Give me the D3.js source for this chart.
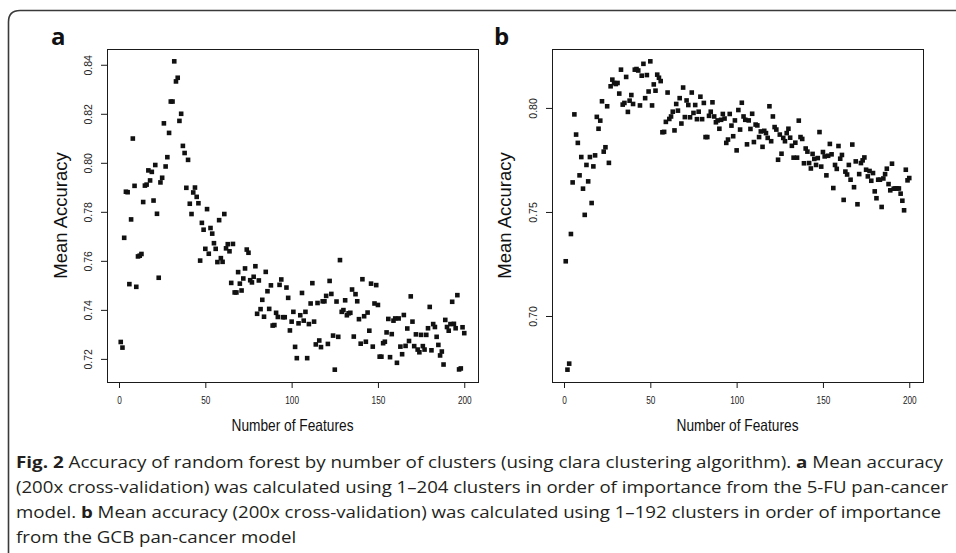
<!DOCTYPE html>
<html>
<head>
<meta charset="utf-8">
<script src="https://cdn.jsdelivr.net/npm/d3@7"></script>
<style>
  html, body { margin: 0; padding: 0; background: #fff; }
  svg { display: block; }
</style>
</head>
<body>
<div id="chart"></div>
<script>
// number of features used (1..200) on the x axis of both panels
const features = d3.range(1, 201);

// panel a: 5-FU pan-cancer model
const accuracyA = [
  0.7269, 0.7246, 0.7694, 0.7882, 0.7880, 0.7505, 0.7769, 0.8099, 0.7906, 0.7494,
  0.7618, 0.7621, 0.7628, 0.7840, 0.7907, 0.7911, 0.7969, 0.7928, 0.7963, 0.7846,
  0.7991, 0.7792, 0.7531, 0.7920, 0.7939, 0.8161, 0.7985, 0.8023, 0.8122, 0.8250,
  0.8250, 0.8414, 0.8332, 0.8347, 0.8171, 0.8200, 0.8069, 0.8040, 0.7898, 0.8012,
  0.7833, 0.7791, 0.7879, 0.7899, 0.7861, 0.7835, 0.7601, 0.7755, 0.7727, 0.7649,
  0.7811, 0.7629, 0.7734, 0.7711, 0.7672, 0.7649, 0.7595, 0.7766, 0.7611, 0.7596,
  0.7791, 0.7651, 0.7668, 0.7639, 0.7510, 0.7669, 0.7471, 0.7471, 0.7554, 0.7507,
  0.7479, 0.7528, 0.7569, 0.7646, 0.7633, 0.7521, 0.7512, 0.7535, 0.7578, 0.7384,
  0.7520, 0.7403, 0.7441, 0.7372, 0.7555, 0.7476, 0.7404, 0.7500, 0.7336, 0.7338,
  0.7388, 0.7371, 0.7502, 0.7524, 0.7370, 0.7370, 0.7491, 0.7449, 0.7316, 0.7352,
  0.7392, 0.7249, 0.7203, 0.7345, 0.7378, 0.7469, 0.7356, 0.7392, 0.7203, 0.7342,
  0.7426, 0.7509, 0.7352, 0.7259, 0.7428, 0.7275, 0.7248, 0.7435, 0.7435, 0.7457,
  0.7261, 0.7518, 0.7465, 0.7295, 0.7156, 0.7434, 0.7290, 0.7603, 0.7392, 0.7399,
  0.7439, 0.7378, 0.7386, 0.7388, 0.7483, 0.7291, 0.7464, 0.7435, 0.7362, 0.7262,
  0.7525, 0.7374, 0.7270, 0.7389, 0.7315, 0.7507, 0.7250, 0.7426, 0.7501, 0.7420,
  0.7209, 0.7209, 0.7264, 0.7270, 0.7308, 0.7363, 0.7207, 0.7301, 0.7356, 0.7365,
  0.7184, 0.7365, 0.7250, 0.7219, 0.7379, 0.7253, 0.7324, 0.7273, 0.7455, 0.7352,
  0.7252, 0.7300, 0.7238, 0.7227, 0.7298, 0.7252, 0.7238, 0.7298, 0.7325, 0.7412,
  0.7235, 0.7342, 0.7330, 0.7290, 0.7257, 0.7214, 0.7230, 0.7177, 0.7359, 0.7330,
  0.7315, 0.7342, 0.7433, 0.7343, 0.7325, 0.7460, 0.7157, 0.7161, 0.7329, 0.7305
];

// panel b: GCB pan-cancer model
const accuracyB = [
  0.7263, 0.6742, 0.6771, 0.7394, 0.7642, 0.7969, 0.7872, 0.7832, 0.7676, 0.7764,
  0.7612, 0.7486, 0.7726, 0.7647, 0.7764, 0.7543, 0.7719, 0.7772, 0.7957, 0.7900,
  0.7939, 0.8032, 0.7790, 0.7811, 0.8008, 0.7736, 0.8104, 0.8136, 0.8120, 0.8115,
  0.8120, 0.8069, 0.8184, 0.8016, 0.8024, 0.8149, 0.7981, 0.8035, 0.8062, 0.8019,
  0.8184, 0.8187, 0.8180, 0.8012, 0.8155, 0.8212, 0.8047, 0.8158, 0.8079, 0.8224,
  0.8012, 0.8113, 0.8083, 0.8160, 0.8145, 0.8129, 0.7883, 0.7885, 0.7933, 0.8074,
  0.7947, 0.7959, 0.7982, 0.7892, 0.8019, 0.7987, 0.8047, 0.7925, 0.8098, 0.7956,
  0.8036, 0.8014, 0.7955, 0.8074, 0.7976, 0.8014, 0.7946, 0.7982, 0.8054, 0.7946,
  0.8024, 0.7860, 0.7860, 0.7962, 0.7982, 0.8027, 0.7959, 0.7931, 0.7940, 0.7900,
  0.7943, 0.7971, 0.7949, 0.7832, 0.7848, 0.7971, 0.7915, 0.7864, 0.7940, 0.7796,
  0.7990, 0.7896, 0.8025, 0.7959, 0.7943, 0.7825, 0.7940, 0.7899, 0.7972, 0.7836,
  0.7920, 0.7916, 0.7860, 0.7887, 0.7813, 0.7890, 0.7879, 0.7856, 0.8008, 0.7840,
  0.7959, 0.7908, 0.7896, 0.7751, 0.7872, 0.7780, 0.7856, 0.7840, 0.7879, 0.7900,
  0.7857, 0.7818, 0.7761, 0.7833, 0.7761, 0.7939, 0.7860, 0.7851, 0.7734, 0.7805,
  0.7790, 0.7735, 0.7709, 0.7779, 0.7755, 0.7726, 0.7759, 0.7884, 0.7718, 0.7788,
  0.7767, 0.7676, 0.7770, 0.7827, 0.7777, 0.7615, 0.7726, 0.7707, 0.7817, 0.7756,
  0.7774, 0.7558, 0.7694, 0.7680, 0.7726, 0.7655, 0.7824, 0.7619, 0.7743, 0.7537,
  0.7682, 0.7735, 0.7748, 0.7762, 0.7703, 0.7671, 0.7697, 0.7650, 0.7687, 0.7599,
  0.7566, 0.7655, 0.7655, 0.7524, 0.7661, 0.7682, 0.7708, 0.7634, 0.7604, 0.7732,
  0.7612, 0.7613, 0.7613, 0.7613, 0.7588, 0.7554, 0.7508, 0.7703, 0.7652, 0.7663
];

const xTicks = [0, 50, 100, 150, 200];
const yTicksA = [0.72, 0.74, 0.76, 0.78, 0.80, 0.82, 0.84];
const yTicksB = [0.70, 0.75, 0.80];
const xTitle = "Number of Features";
const yTitle = "Mean Accuracy";

// caption, one entry per line, [text, bold]
const caption = [
  [["Fig. 2", true], [" Accuracy of random forest by number of clusters (using clara clustering algorithm). ", false], ["a", true], [" Mean accuracy", false]],
  [["(200x cross-validation) was calculated using 1\u2013204 clusters in order of importance from the 5-FU pan-cancer", false]],
  [["model. ", false], ["b", true], [" Mean accuracy (200x cross-validation) was calculated using 1\u2013192 clusters in order of importance", false]],
  [["from the GCB pan-cancer model", false]]
];

const width = 956, height = 553;
const plotFont = "'Liberation Sans', Arial, sans-serif";
const ink = "#1a1a1a";

const svg = d3.select("#chart").append("svg")
  .attr("width", width)
  .attr("height", height);

svg.append("rect").attr("width", width).attr("height", height).attr("fill", "#fff");

// rounded frame, open to the right and bottom
svg.append("path")
  .attr("d", "M8.5,553 V22 Q8.5,10.5 20,10.5 H956")
  .attr("fill", "none")
  .attr("stroke", "#3a3a3a")
  .attr("stroke-width", 1.6);

// R style 4% padding on both ends
function padded(ext) {
  const p = (ext[1] - ext[0]) * 0.04;
  return [ext[0] - p, ext[1] + p];
}

function drawPanel(opts) {
  const { left, right, top, bottom, values, yTicks, letter, letterX, yTitleX } = opts;
  const g = svg.append("g");

  const x = d3.scaleLinear().domain(padded(d3.extent(features))).range([left, right]);
  const y = d3.scaleLinear().domain(padded(d3.extent(values))).range([bottom, top]);

  // the plot was squeezed sideways, so horizontal text is narrow
  g.append("g")
    .attr("transform", `translate(0,${bottom})`)
    .call(d3.axisBottom(x).tickValues(xTicks).tickSize(6).tickPadding(8))
    .call((a) => a.select(".domain").remove())
    .call((a) => a.selectAll(".tick line").attr("stroke", ink))
    .call((a) => a.selectAll("text")
      .attr("transform", "scale(0.75,1)")
      .attr("font-family", plotFont)
      .attr("font-size", 11)
      .attr("fill", "#222"));

  g.append("g")
    .attr("transform", `translate(${left},0)`)
    .call(d3.axisLeft(y).tickValues(yTicks).tickSize(6).tickFormat(d3.format(".2f")))
    .call((a) => a.select(".domain").remove())
    .call((a) => a.selectAll(".tick line").attr("stroke", ink))
    .call((a) => a.selectAll("text")
      .attr("x", 0)
      .attr("dy", 0)
      .attr("text-anchor", "middle")
      .attr("transform", "translate(-15,0) rotate(-90)")
      .attr("font-family", plotFont)
      .attr("font-size", 10.5)
      .attr("fill", "#222"));

  g.append("rect")
    .attr("x", left + 0.5)
    .attr("y", top + 0.5)
    .attr("width", right - left)
    .attr("height", bottom - top)
    .attr("fill", "none")
    .attr("stroke", ink)
    .attr("stroke-width", 1);

  const s = 4.6;
  g.append("g")
    .selectAll("rect")
    .data(values)
    .join("rect")
    .attr("x", (d, i) => x(features[i]) - s / 2)
    .attr("y", (d) => y(d) - s / 2)
    .attr("width", s)
    .attr("height", s)
    .attr("fill", "#111");

  g.append("text")
    .attr("x", (left + right) / 2 - 61)
    .attr("y", 431)
    .attr("textLength", 122)
    .attr("lengthAdjust", "spacingAndGlyphs")
    .attr("font-family", plotFont)
    .attr("font-size", 16.5)
    .attr("fill", "#111")
    .text(xTitle);

  g.append("text")
    .attr("transform", `translate(${yTitleX},${(top + bottom) / 2}) rotate(-90)`)
    .attr("text-anchor", "middle")
    .attr("font-family", plotFont)
    .attr("font-size", 18.5)
    .attr("fill", "#111")
    .text(yTitle);

  g.append("text")
    .attr("x", letterX)
    .attr("y", 45)
    .attr("font-family", "'Open Sans', 'Liberation Sans', sans-serif")
    .attr("font-weight", 700)
    .attr("font-size", 24)
    .attr("fill", "#111")
    .text(letter);
}

drawPanel({
  left: 107, right: 478, top: 49, bottom: 382,
  values: accuracyA, yTicks: yTicksA,
  letter: "a", letterX: 51, yTitleX: 67
});

drawPanel({
  left: 552, right: 923, top: 49, bottom: 382,
  values: accuracyB, yTicks: yTicksB,
  letter: "b", letterX: 494, yTitleX: 511
});

// caption block
const capX = 16;
const capY = [468, 493, 518, 543];
const capEnd = [943, 948, 941, null];
const capText = caption.map((segs, i) => {
  const t = svg.append("text")
    .attr("x", capX)
    .attr("y", capY[i])
    .attr("font-family", "'Open Sans', 'Noto Sans', sans-serif")
    .attr("font-size", 16.5)
    .attr("fill", "#231f20");
  segs.forEach(([s, b]) => t.append("tspan").attr("font-weight", b ? 700 : 400).text(s));
  return t;
});

// squeeze the lines to the measured widths, last line gets the mean ratio
const ratios = [];
capText.forEach((t, i) => {
  const w = t.node().getComputedTextLength();
  if (capEnd[i] != null) {
    ratios.push((capEnd[i] - capX) / w);
    t.attr("textLength", capEnd[i] - capX).attr("lengthAdjust", "spacingAndGlyphs");
  } else {
    t.attr("textLength", w * d3.mean(ratios)).attr("lengthAdjust", "spacingAndGlyphs");
  }
});
</script>
</body>
</html>
